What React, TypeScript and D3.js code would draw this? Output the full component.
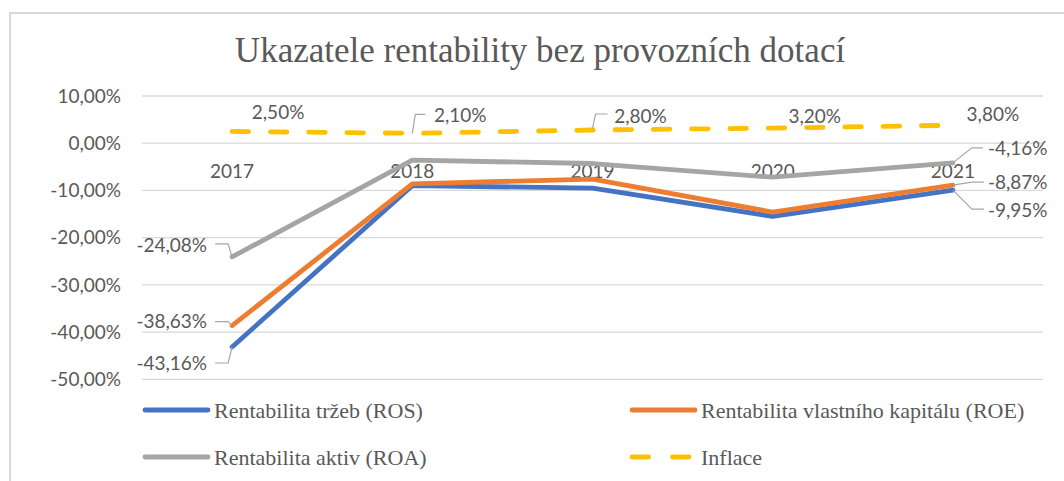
import React from "react";
import * as d3 from "d3";

// data (percent)
const years = ["2017", "2018", "2019", "2020", "2021"];
const ros = [-43.16, -9.0, -9.5, -15.5, -9.95];
const roe = [-38.63, -8.6, -7.6, -14.6, -8.87];
const roa = [-24.08, -3.6, -4.3, -7.2, -4.16];
const inflace = [2.5, 2.1, 2.8, 3.2, 3.8];
const yTicks = [10, 0, -10, -20, -30, -40, -50];

const seriesNames = [
  "Rentabilita tržeb (ROS)",
  "Rentabilita vlastního kapitálu (ROE)",
  "Rentabilita aktiv (ROA)",
  "Inflace",
];

const width = 1064;
const height = 481;
const plot = { left: 142, right: 1043, top: 96, bottom: 379.3 };

const czech = d3.formatLocale({
  decimal: ",",
  thousands: " ",
  grouping: [3],
  currency: ["", " Kč"],
  minus: "-",
});
const fmt = (v: number) => czech.format(".2f")(v) + "%";

const numFont = "Lato, 'Open Sans', sans-serif";
const serif = "'Liberation Serif', 'Times New Roman', serif";
const textColor = "#595959";

type Lbl = { i: number; dx: number; dy: number; anchor: string; leader?: [number, number][] };

export default function App() {
  const x = d3.scaleBand().domain(years).range([plot.left, plot.right]);
  const cx = (i: number) => (x(years[i]) as number) + x.bandwidth() / 2;
  const y = d3.scaleLinear().domain([-50, 10]).range([plot.bottom, plot.top]);

  const line = d3
    .line<number>()
    .x((_, i) => cx(i))
    .y((d) => y(d));

  const series = [
    { name: seriesNames[0], values: ros, color: "#4472C4", dash: undefined as string | undefined },
    { name: seriesNames[1], values: roe, color: "#ED7D31", dash: undefined },
    { name: seriesNames[2], values: roa, color: "#A5A5A5", dash: undefined },
    { name: seriesNames[3], values: inflace, color: "#FFC000", dash: "16.5 21.8" },
  ];

  // where Excel placed each data label, relative to its point
  const labels: Lbl[][] = [
    [
      { i: 0, dx: -25, dy: 16, anchor: "end", leader: [[0, 0], [-4, 16], [-17, 16]] },
      { i: 4, dx: 35, dy: 20, anchor: "start", leader: [[0, 0], [19, 19], [31, 19]] },
    ],
    [
      { i: 0, dx: -25, dy: -4, anchor: "end", leader: [[0, 0], [-4, -4], [-17, -4]] },
      { i: 4, dx: 35, dy: -3, anchor: "start", leader: [[0, 0], [19, -3], [31, -3]] },
    ],
    [
      { i: 0, dx: -25, dy: -12, anchor: "end", leader: [[0, 0], [-4, -13], [-17, -13]] },
      { i: 4, dx: 35, dy: -15, anchor: "start", leader: [[0, 0], [19, -15], [30, -15]] },
    ],
    [
      { i: 0, dx: 46, dy: -19, anchor: "middle" },
      { i: 1, dx: 48, dy: -18, anchor: "middle", leader: [[0, 0], [3, -19], [13, -19]] },
      { i: 2, dx: 48, dy: -14, anchor: "middle", leader: [[0, -1], [3, -16], [15, -16]] },
      { i: 3, dx: 42, dy: -12, anchor: "middle" },
      { i: 4, dx: 40, dy: -11, anchor: "middle" },
    ],
  ];

  const legend = [
    { s: 0, x: 143, y: 410 },
    { s: 1, x: 630, y: 410 },
    { s: 2, x: 143, y: 457 },
    { s: 3, x: 630, y: 457 },
  ];

  return (
    <svg
      width={width}
      height={height}
      style={{ position: "absolute", left: 0, top: 0, background: "#fff" }}
    >
      <rect x={10} y={13} width={1200} height={600} fill="#fff" stroke="#d9d9d9" strokeWidth={2} />

      <text x={540} y={62} textAnchor="middle" fontFamily={serif} fontSize={35} fill={textColor}>
        Ukazatele rentability bez provozních dotací
      </text>

      {/* gridlines and y labels */}
      {yTicks.map((t) => (
        <g key={t}>
          <line x1={plot.left} x2={plot.right} y1={y(t)} y2={y(t)} stroke="#d9d9d9" strokeWidth={1.3} />
          <text x={121} y={y(t) + 6.8} textAnchor="end" fontFamily={numFont} fontSize={19} fill={textColor}>
            {fmt(t)}
          </text>
        </g>
      ))}

      {/* category labels sit under the 0 line */}
      {years.map((yr, i) => (
        <text key={yr} x={cx(i)} y={y(0) + 35} textAnchor="middle" fontFamily={numFont} fontSize={19} fill={textColor}>
          {yr}
        </text>
      ))}

      {series.map((s) => (
        <path
          key={s.name}
          d={line(s.values) || ""}
          fill="none"
          stroke={s.color}
          strokeWidth={4.8}
          strokeLinejoin="round"
          strokeLinecap="round"
          strokeDasharray={s.dash}
        />
      ))}

      {/* data labels with leader lines */}
      {series.map((s, si) =>
        labels[si].map((l) => {
          const px = cx(l.i);
          const py = y(s.values[l.i]);
          return (
            <g key={s.name + l.i}>
              {l.leader && (
                <polyline
                  points={l.leader.map((p) => `${px + p[0]},${py + p[1]}`).join(" ")}
                  fill="none"
                  stroke="#a6a6a6"
                  strokeWidth={1.2}
                />
              )}
              <text
                x={px + l.dx}
                y={py + l.dy + 6.8}
                textAnchor={l.anchor}
                fontFamily={numFont}
                fontSize={19}
                fill={textColor}
              >
                {fmt(s.values[l.i])}
              </text>
            </g>
          );
        })
      )}

      {/* legend */}
      {legend.map((lg) => {
        const s = series[lg.s];
        return (
          <g key={s.name}>
            <line
              x1={lg.x + 2}
              x2={lg.x + 65}
              y1={lg.y}
              y2={lg.y}
              stroke={s.color}
              strokeWidth={4.8}
              strokeLinecap="round"
              strokeDasharray={s.dash ? "16.5 24" : undefined}
            />
            <text x={lg.x + 71} y={lg.y + 7.5} fontFamily={serif} fontSize={22} fill={textColor}>
              {s.name}
            </text>
          </g>
        );
      })}
    </svg>
  );
}
